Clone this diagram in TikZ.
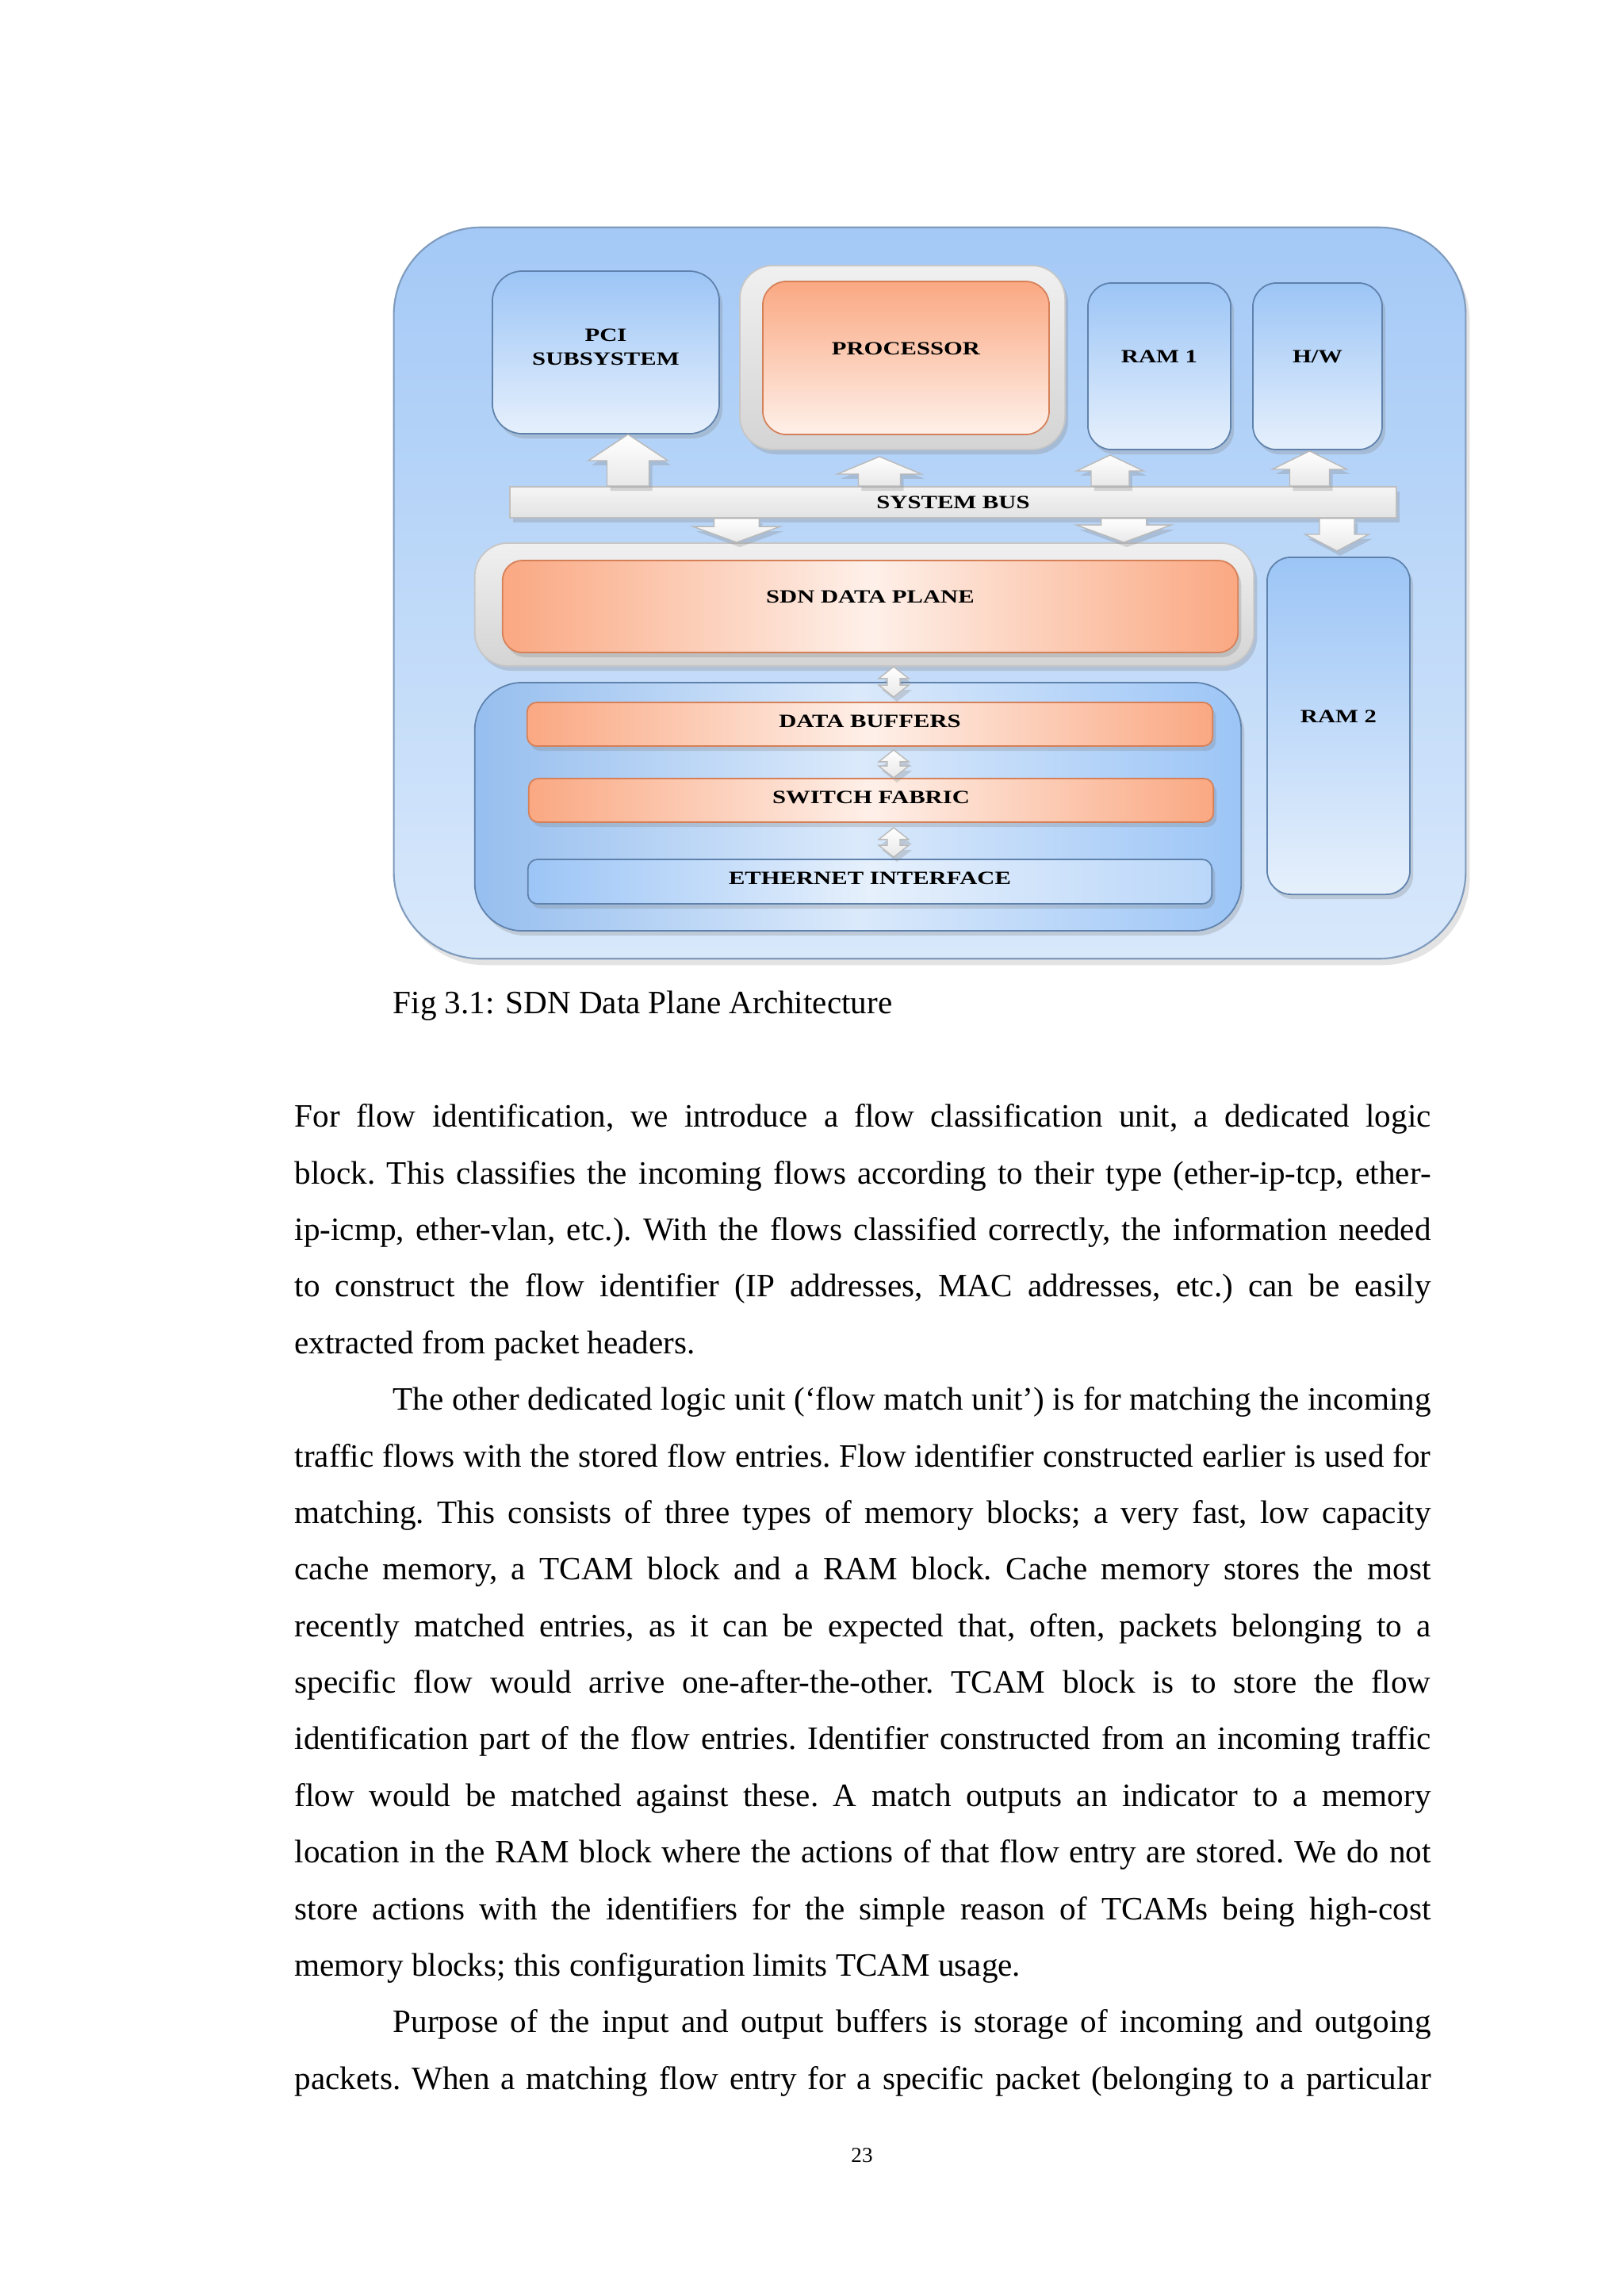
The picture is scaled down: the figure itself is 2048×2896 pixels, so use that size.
\documentclass[tikz,border=0pt]{standalone}
\usepackage{fontspec}
\setmainfont{Liberation Serif}
\newfontfamily\diagfont[FakeStretch=1.3]{Liberation Serif}
\usetikzlibrary{calc,shadows}

\definecolor{boardtop}{RGB}{164,201,246}
\definecolor{boardbot}{RGB}{216,232,251}
\definecolor{blockblue}{RGB}{156,197,246}
\definecolor{blockpale}{RGB}{230,240,252}
\definecolor{edgeblue}{RGB}{95,130,172}
\definecolor{hotorange}{RGB}{250,168,130}
\definecolor{paleorange}{RGB}{254,240,233}
\definecolor{edgeorange}{RGB}{214,128,88}
\definecolor{framegrey}{RGB}{212,212,212}
\definecolor{framepale}{RGB}{240,240,240}

\newcommand{\lbl}{\diagfont\bfseries\fontsize{6.7pt}{8.5pt}\selectfont}
\newcommand{\bodyfont}{\fontsize{11.7pt}{20.3pt}\selectfont}

% block arrow: #1 tip, #2 base (only its y is used), #3 head half width, #4 shaft half width, #5 head length
\newcommand{\busarrow}[5]{%
  \path[blockarrow] let \p1=(#1), \p2=(#2), \n1={ifthenelse(\y1>\y2,1,-1)} in
    ({\x1-#4cm},\y2) -- ({\x1-#4cm},{\y1-(\n1)*#5cm}) -- ({\x1-#3cm},{\y1-(\n1)*#5cm})
    -- (\x1,\y1) -- ({\x1+#3cm},{\y1-(\n1)*#5cm}) -- ({\x1+#4cm},{\y1-(\n1)*#5cm})
    -- ({\x1+#4cm},\y2) -- cycle;}
% two-headed block arrow: #1 upper tip, #2 lower tip (only its y is used)
\newcommand{\linkarrow}[5]{%
  \path[blockarrow] let \p1=(#1), \p2=(#2) in
    (\x1,\y1) -- ({\x1+#3cm},{\y1-#5cm}) -- ({\x1+#4cm},{\y1-#5cm}) -- ({\x1+#4cm},{\y2+#5cm})
    -- ({\x1+#3cm},{\y2+#5cm}) -- (\x1,\y2) -- ({\x1-#3cm},{\y2+#5cm}) -- ({\x1-#4cm},{\y2+#5cm})
    -- ({\x1-#4cm},{\y1-#5cm}) -- ({\x1-#3cm},{\y1-#5cm}) -- cycle;}

\begin{document}
\begin{tikzpicture}[
  x=0.01cm, y=-0.01cm,
  size/.style 2 args={minimum width=#1cm, minimum height=#2cm, inner sep=0pt},
  shade/.style={drop shadow={opacity=0.28, shadow xshift=0.4mm, shadow yshift=-0.6mm}},
  board/.style={rounded corners=1.1cm, draw=edgeblue!80, line width=0.6pt, top color=boardtop, bottom color=boardbot,
    drop shadow={opacity=0.22, shadow xshift=0.5mm, shadow yshift=-0.8mm}},
  block/.style={shade, rounded corners=0.38cm, draw=edgeblue, line width=0.5pt, top color=blockblue, bottom color=blockpale, font=\lbl, align=center},
  frame/.style={shade, rounded corners=0.42cm, draw=gray!45, line width=0.5pt, top color=framepale, bottom color=framegrey},
  core/.style={rounded corners=0.3cm, draw=edgeorange, line width=0.5pt, font=\lbl},
  bar/.style={shade, rounded corners=0.12cm, draw=edgeorange, line width=0.5pt, left color=hotorange, right color=hotorange, middle color=paleorange, font=\lbl},
  tall/.style={text depth=0.24cm},
  thin/.style={text depth=0.08cm},
  blockarrow/.style={draw=gray!55, line width=0.4pt, top color=white, bottom color=gray!18, shade}
]
\useasboundingbox (0,0) rectangle (2048,2896);
\fill[white] (0,0) rectangle (2048,2896);

% diagram
\node[board, size={13.51}{9.22}] (board) at (1172.5,748) {};

\node[block, size={2.86}{2.05}, text depth=0.14cm] (pci) at (764,444.5) {PCI\\SUBSYSTEM};
\node[frame, size={4.10}{2.32}] (procframe) at (1138,451) {};
\node[core, tall, size={3.61}{1.93}, top color=hotorange, bottom color=paleorange] (proc) at (1142.5,451.5) {PROCESSOR};
\node[block, tall, size={1.80}{2.10}, rounded corners=0.3cm] (ramone) at (1462,462) {RAM 1};
\node[block, tall, size={1.63}{2.10}, rounded corners=0.3cm] (hw) at (1661.5,462) {H/W};

\node[shade, draw=gray!50, line width=0.5pt, top color=gray!8, bottom color=gray!22, font=\lbl, size={11.18}{0.39}] (bus) at (1202,633.5) {SYSTEM BUS};

\busarrow{[xshift=0.28cm]pci.south}{bus.north}{0.50}{0.265}{0.33}
\busarrow{[xshift=-0.29cm,yshift=-0.08cm]procframe.south}{bus.north}{0.53}{0.265}{0.22}
\busarrow{[xshift=-0.62cm,yshift=-0.06cm]ramone.south}{bus.north}{0.42}{0.24}{0.20}
\busarrow{[xshift=-0.10cm,yshift=-0.01cm]hw.south}{bus.north}{0.47}{0.25}{0.23}

\node[frame, size={9.82}{1.55}] (sdnframe) at (1090,762.5) {};
\node[bar, tall, rounded corners=0.25cm, size={9.27}{1.16}] (sdn) at (1097.5,765) {SDN DATA PLANE};
\node[block, tall, size={1.80}{4.25}, rounded corners=0.3cm] (ramtwo) at (1688,915.5) {RAM 2};

\busarrow{[xshift=-1.61cm]sdnframe.north}{bus.south}{0.55}{0.285}{0.20}
\busarrow{[xshift=3.27cm]sdnframe.north}{bus.south}{0.60}{0.285}{0.22}
\busarrow{[xshift=-0.02cm,yshift=0.07cm]ramtwo.north}{bus.south}{0.40}{0.22}{0.21}

\node[shade, rounded corners=0.6cm, draw=edgeblue, line width=0.5pt, left color=blockblue!90!edgeblue, right color=blockblue, middle color=blockpale!85!blockblue, size={9.66}{3.13}] (portbox) at (1082,1017.5) {};
\node[bar, thin, size={8.64}{0.55}] (buffers) at (1097,913.5) {DATA BUFFERS};
\node[bar, thin, size={8.63}{0.55}] (fabric) at (1098.5,1009.5) {SWITCH FABRIC};
\node[bar, thin, size={8.62}{0.56}, draw=edgeblue, left color=blockblue, right color=blockblue!70!white, middle color=blockpale] (ether) at (1097,1112) {ETHERNET INTERFACE};

\linkarrow{[xshift=0.37cm]sdnframe.south}{[yshift=0.06cm]buffers.north}{0.19}{0.08}{0.15}
\linkarrow{[xshift=0.30cm,yshift=-0.04cm]buffers.south}{fabric.north}{0.19}{0.08}{0.15}
\linkarrow{[xshift=0.285cm,yshift=-0.06cm]fabric.south}{[yshift=0.02cm]ether.north}{0.19}{0.08}{0.15}

% caption and text
\node[anchor=base west, inner sep=0pt, font=\bodyfont] (caption) at (495,1278) {Fig 3.1: SDN Data Plane Architecture};

\node[anchor=north west, inner sep=0pt, text width=14.32cm, align=justify, font=\bodyfont] (bodytext) at (371,1392) {%
\setlength{\parindent}{1.24cm}\frenchspacing\hyphenpenalty=10000\exhyphenpenalty=10000
\noindent For flow identification, we introduce a flow classification unit, a dedicated logic\linebreak
block. This classifies the incoming flows according to their type (ether-ip-tcp, ether-\linebreak
ip-icmp, ether-vlan, etc.). With the flows classified correctly, the information needed\linebreak
to construct the flow identifier (IP addresses, MAC addresses, etc.) can be easily\linebreak
extracted from packet headers.\par
The other dedicated logic unit (‘flow match unit’) is for matching the incoming\linebreak
traffic flows with the stored flow entries. Flow identifier constructed earlier is used for\linebreak
matching. This consists of three types of memory blocks; a very fast, low capacity\linebreak
cache memory, a TCAM block and a RAM block. Cache memory stores the most\linebreak
recently matched entries, as it can be expected that, often, packets belonging to a\linebreak
specific flow would arrive one-after-the-other. TCAM block is to store the flow\linebreak
identification part of the flow entries. Identifier constructed from an incoming traffic\linebreak
flow would be matched against these. A match outputs an indicator to a memory\linebreak
location in the RAM block where the actions of that flow entry are stored. We do not\linebreak
store actions with the identifiers for the simple reason of TCAMs being high-cost\linebreak
memory blocks; this configuration limits TCAM usage.\par
Purpose of the input and output buffers is storage of incoming and outgoing\linebreak
packets. When a matching flow entry for a specific packet (belonging to a particular{\parfillskip=0pt\par}};

\node[anchor=base, inner sep=0pt, font=\fontsize{7.7pt}{9pt}\selectfont] (pagenum) at (1087,2727) {23};
\end{tikzpicture}
\end{document}
